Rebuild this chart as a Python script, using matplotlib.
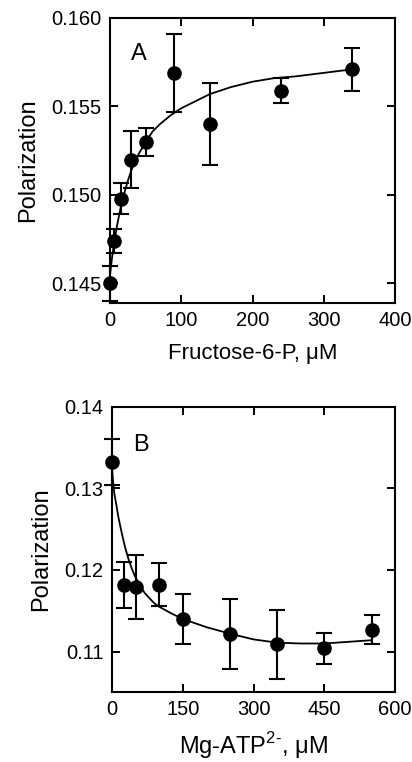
import numpy as np
import matplotlib
matplotlib.use("Agg")
import matplotlib.pyplot as plt

plt.rcParams['font.family'] = ['Liberation Sans', 'DejaVu Sans']
plt.rcParams['mathtext.fontset'] = 'custom'
plt.rcParams['mathtext.rm'] = 'Liberation Sans'

# panel A: fructose-6-P titration
f6p_conc = [0, 5, 15, 30, 50, 90, 140, 240, 340]
f6p_pol = [0.1450, 0.1474, 0.1498, 0.1520, 0.1530, 0.1569, 0.1540, 0.1559, 0.1571]
f6p_err = [0.0010, 0.0007, 0.0009, 0.0016, 0.0008, 0.0022, 0.0023, 0.0007, 0.0012]
f6p_fit_x = [0, 3, 6, 10, 15, 20, 25, 30, 40, 50, 60, 70, 85, 100, 120, 140, 170,
             200, 230, 260, 300, 340]
f6p_fit_y = [0.1455, 0.1465, 0.1473, 0.1483, 0.1493, 0.1501, 0.1508, 0.1514, 0.1523,
             0.1530, 0.1536, 0.1540, 0.1545, 0.1549, 0.1553, 0.1557, 0.1561,
             0.1564, 0.1566, 0.1567, 0.1569, 0.1571]

# panel B: Mg-ATP titration
atp_conc = [0, 25, 50, 100, 150, 250, 350, 450, 550]
atp_pol = [0.1332, 0.1182, 0.1179, 0.1182, 0.1140, 0.1122, 0.1109, 0.1104, 0.1127]
atp_err = [0.0028, 0.0028, 0.0039, 0.0026, 0.0031, 0.0043, 0.0042, 0.0019, 0.0018]
atp_fit_x = [0, 2, 5, 9, 13, 18, 23, 28, 34, 41, 48, 58, 69, 80, 90, 100, 125, 150, 175,
             200, 250, 300, 350, 400, 450, 500, 550]
atp_fit_y = [0.1325, 0.1309, 0.1293, 0.1280, 0.1266, 0.1252, 0.1239, 0.1227, 0.1215,
             0.1203, 0.1193, 0.1182, 0.1172, 0.1165, 0.1159, 0.1155, 0.1147, 0.1140,
             0.1135, 0.1130, 0.1122, 0.1115, 0.1111, 0.1110, 0.1110, 0.1112, 0.1114]

fig = plt.figure(figsize=(4.12, 7.62), dpi=100)
ax_a = fig.add_axes([0.267, 0.6024, 0.692, 0.374])
ax_b = fig.add_axes([0.272, 0.0923, 0.687, 0.374])


def style_axis(ax):
    for side in ax.spines.values():
        side.set_linewidth(1.5)
    ax.tick_params(direction='in', length=6, width=1.4, top=True, right=True,
                   labelsize=14.5, pad=6)


ax_a.plot(f6p_fit_x, f6p_fit_y, color='black', linewidth=1.3)
ax_a.errorbar(f6p_conc, f6p_pol, yerr=f6p_err, fmt='o', color='black',
              markersize=9.5, elinewidth=1.5, capsize=5.5, capthick=1.5, clip_on=False)
ax_a.set_xlim(0, 400)
ax_a.set_ylim(0.1439, 0.160)
ax_a.set_xticks([0, 100, 200, 300, 400])
ax_a.set_yticks([0.145, 0.150, 0.155, 0.160])
ax_a.set_yticklabels(['0.145', '0.150', '0.155', '0.160'])
ax_a.set_xlabel('Fructose-6-P, \u03bcM', fontsize=16, labelpad=9)
ax_a.set_ylabel('Polarization', fontsize=17, labelpad=9)
ax_a.text(0.075, 0.875, 'A', transform=ax_a.transAxes, fontsize=17, va='center')
style_axis(ax_a)

ax_b.plot(atp_fit_x, atp_fit_y, color='black', linewidth=1.3)
ax_b.errorbar(atp_conc, atp_pol, yerr=atp_err, fmt='o', color='black',
              markersize=9.5, elinewidth=1.5, capsize=5.5, capthick=1.5, clip_on=False)
ax_b.set_xlim(0, 600)
ax_b.set_ylim(0.1051, 0.140)
ax_b.set_xticks([0, 150, 300, 450, 600])
ax_b.set_yticks([0.11, 0.12, 0.13, 0.14])
ax_b.set_yticklabels(['0.11', '0.12', '0.13', '0.14'])
ax_b.set_xlabel('Mg-ATP$^{2\\text{-}}$, \u03bcM', fontsize=17, labelpad=8)
ax_b.set_ylabel('Polarization', fontsize=17, labelpad=9)
ax_b.text(0.075, 0.866, 'B', transform=ax_b.transAxes, fontsize=17, va='center')
style_axis(ax_b)

fig.savefig('out.png', dpi=100)
